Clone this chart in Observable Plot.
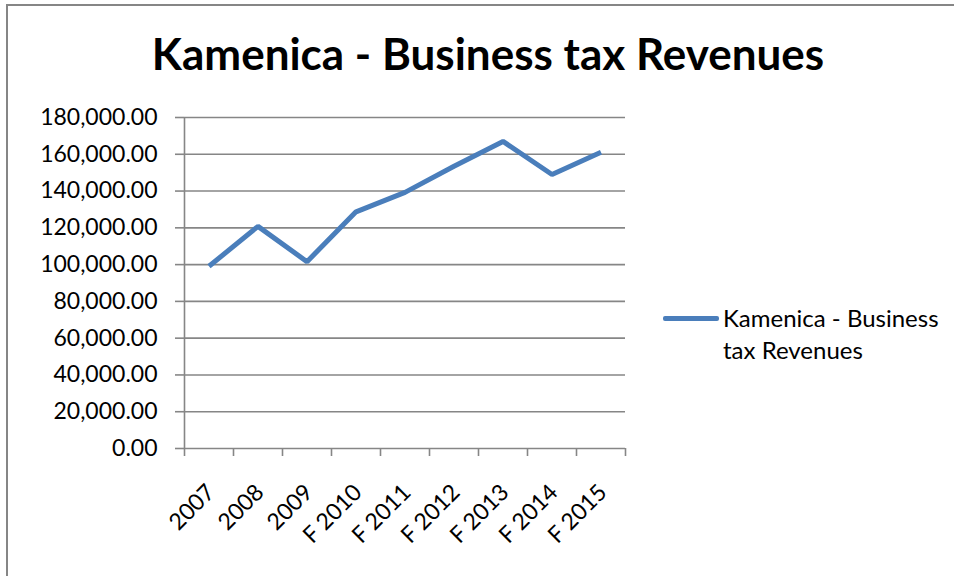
<!DOCTYPE html>
<html>
<head>
<meta charset="utf-8">
<script src="https://cdn.jsdelivr.net/npm/d3@7"></script>
<script src="https://cdn.jsdelivr.net/npm/@observablehq/plot@0.6"></script>
<style>
  html, body { margin: 0; padding: 0; background: #fff; overflow: hidden; }
  #wrap { position: relative; width: 954px; height: 576px; overflow: hidden; font-family: Lato, "Open Sans", sans-serif; }
  #frame { position: absolute; left: 6px; top: 4px; width: 980px; height: 600px; border: 2px solid #868686; box-sizing: border-box; }
  #title { position: absolute; left: 0; width: 976px; top: 26px; line-height: 54px; text-align: center; font-weight: bold; font-size: 44px; color: #000; }
  #legend { position: absolute; left: 663px; top: 302px; font-size: 24px; line-height: 32px; color: #000; }
  #legend .sw { position: absolute; left: 0; top: 14px; width: 56px; height: 5px; border-radius: 2px; background: #4a7ebb; }
  #legend .tx { position: absolute; left: 60px; top: 0; white-space: nowrap; }
  #chart { position: absolute; left: 0; top: 0; }
</style>
</head>
<body>
<div id="wrap">
  <div id="frame"></div>
  <div id="chart"></div>
  <div id="title">Kamenica - Business tax Revenues</div>
  <div id="legend"><div class="sw"></div><div class="tx">Kamenica - Business<br>tax Revenues</div></div>
</div>
<script>
const categories = ["2007", "2008", "2009", "F 2010", "F 2011", "F 2012", "F 2013", "F 2014", "F 2015"];
const revenues = [99100, 120800, 101600, 128700, 139300, 153500, 167000, 149000, 161100];
const yTicks = [0, 20000, 40000, 60000, 80000, 100000, 120000, 140000, 160000, 180000];

const data = categories.map((c, i) => ({i, cat: c, value: revenues[i]}));
const idx = categories.map((c, i) => i);
const bounds = [...idx.map(i => i - 0.5), categories.length - 0.5];
const fmt = d3.format(",.2f");
const grid = "#868686";

const plot = Plot.plot({
  width: 954,
  height: 576,
  marginLeft: 184,
  marginRight: 329,
  marginTop: 117,
  marginBottom: 128,
  style: {fontFamily: "Lato, 'Open Sans', sans-serif", fontSize: "23px", color: "#000", background: "transparent"},
  x: {type: "linear", domain: [-0.5, categories.length - 0.5]},
  y: {domain: [0, 180000]},
  marks: [
    Plot.ruleY(yTicks, {stroke: grid, strokeWidth: 1.6}),
    Plot.ruleX([-0.5], {stroke: grid, strokeWidth: 1.6}),
    Plot.axisY({ticks: yTicks, tickFormat: fmt, tickSize: 9, tickPadding: 18, stroke: grid, strokeWidth: 1.6, strokeOpacity: 1, label: null, fontSize: 23}),
    Plot.axisX({ticks: bounds, tickFormat: () => "", tickSize: 8, stroke: grid, strokeWidth: 1.6, strokeOpacity: 1, label: null}),
    Plot.axisX({ticks: idx, tickFormat: i => categories[i], tickSize: 0, tickRotate: -45, tickPadding: 40, dx: 2, label: null, fontSize: 23}),
    Plot.line(data, {x: "i", y: "value", stroke: "#4a7ebb", strokeWidth: 5, strokeLinejoin: "miter", strokeLinecap: "butt"})
  ]
});
document.getElementById("chart").appendChild(plot);
</script>
</body>
</html>
